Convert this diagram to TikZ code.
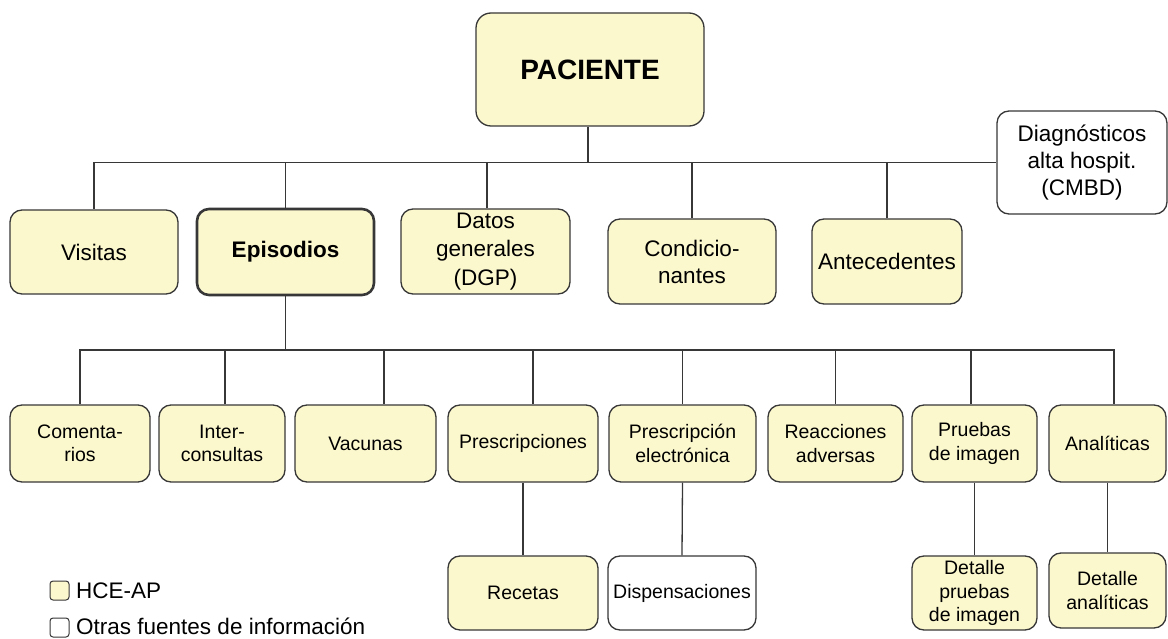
\documentclass[tikz,border=0pt]{standalone}
\usepackage{fontspec}
\setmainfont{Liberation Sans}
\definecolor{hce}{RGB}{252,248,206}
\definecolor{ln}{RGB}{55,55,55}
\begin{document}
\begin{tikzpicture}[x=1pt,y=-1pt,
  box/.style={draw=ln, line width=1.3pt, rounded corners=12pt, fill=hce, align=center, inner sep=1pt, text=black},
  big/.style={font=\fontsize{22.5}{27.5}\selectfont},
  sm/.style={font=\fontsize{19.5}{23.5}\selectfont},
  other/.style={fill=white},
  conn/.style={draw=ln, line width=1.3pt}]
\useasboundingbox (0,0) rectangle (1168,639);
% top
\node[box, minimum width=228, minimum height=113, rounded corners=15pt, font=\fontsize{28}{33}\selectfont\bfseries] (pac) at (590,69.5) {PACIENTE};
% level 1
\node[box,big,minimum width=168,minimum height=84] (vis) at (94,252) {Visitas};
\node[box,line width=2.6pt,minimum width=177,minimum height=86,font=\fontsize{22.5}{27.5}\selectfont\bfseries] (epi) at (285.5,252) {Episodios};
\node[box,minimum width=169,minimum height=85,font=\fontsize{22.5}{28.5}\selectfont] (dgp) at (485.5,251.5) {Datos\\generales\\(DGP)};
\node[box,minimum width=168,minimum height=85,font=\fontsize{22.5}{27}\selectfont] (cond) at (692,261.5) {Condicio-\\nantes};
\node[box,big,minimum width=150,minimum height=85] (ant) at (887,261.5) {Antecedentes};
\node[box,other,minimum width=170,minimum height=103,font=\fontsize{22.5}{27}\selectfont] (diag) at (1082,162.5) {Diagnósticos\\alta hospit.\\(CMBD)};
% level 2
\node[box,sm,minimum width=140,minimum height=77] (com) at (80,443.5) {Comenta-\\rios};
\node[box,sm,minimum width=126,minimum height=77] (int) at (222,443.5) {Inter-\\consultas};
\node[box,sm,minimum width=141,minimum height=77] (vac) at (365.5,443.5) {Vacunas};
\node[box,sm,minimum width=150,minimum height=77] (pre) at (523,443.5) {Prescripciones};
\node[box,sm,minimum width=147,minimum height=77] (pel) at (682.5,443.5) {Prescripción\\electrónica};
\node[box,sm,minimum width=135,minimum height=77] (rea) at (835.5,443.5) {Reacciones\\adversas};
\node[box,sm,minimum width=125,minimum height=77] (pru) at (974.5,443.5) {Pruebas\\de imagen};
\node[box,sm,minimum width=117,minimum height=77] (ana) at (1107.5,443.5) {Analíticas};
% level 3
\node[box,sm,minimum width=150,minimum height=74] (rec) at (523,593) {Recetas};
\node[box,sm,other,minimum width=148,minimum height=74] (dis) at (682,593) {Dispensaciones};
\node[box,sm,minimum width=125,minimum height=74] (dpru) at (974.5,593) {Detalle\\pruebas\\de imagen};
\node[box,sm,minimum width=117,minimum height=75] (dana) at (1107.5,590.5) {Detalle\\analíticas};
% legend
\node[draw=ln, fill=hce, rounded corners=3pt, line width=1pt, minimum size=19, inner sep=0] (lg1) at (59.5,590.5) {};
\node[big, anchor=west, inner sep=0] (lt1) at (76,590.5) {HCE-AP};
\node[draw=ln, fill=white, rounded corners=3pt, line width=1pt, minimum size=19, inner sep=0] (lg2) at (59.5,627.5) {};
\node[big, anchor=west, inner sep=0] (lt2) at (76,626.5) {Otras fuentes de información};
% connectors level 1
\coordinate (pacS) at ([xshift=-2]pac.south);
\draw[conn] (vis.north) |- (diag.west);
\draw[conn] (pacS) -- (pacS |- diag.west);
\draw[conn] (epi.north) -- (epi.north |- diag.west);
\coordinate (dgpT) at ([xshift=1.5]dgp.north);
\draw[conn] (dgpT) -- (dgpT |- diag.west);
\draw[conn] (cond.north) -- (cond.north |- diag.west);
\draw[conn] (ant.north) -- (ant.north |- diag.west);
% connectors level 2
\coordinate (b2) at (0,350);
\coordinate (anaT) at ([xshift=6.5]ana.north);
\coordinate (intT) at ([xshift=3]int.north);
\coordinate (vacT) at ([xshift=18.5]vac.north);
\coordinate (preT) at ([xshift=10]pre.north);
\coordinate (pruT) at ([xshift=-3.5]pru.north);
\draw[conn] (epi.south) -- (epi.south |- b2);
\draw[conn] (com.north) -- (com.north |- b2) -- (anaT |- b2) -- (anaT);
\draw[conn] (intT) -- (intT |- b2);
\draw[conn] (vacT) -- (vacT |- b2);
\draw[conn] (preT) -- (preT |- b2);
\draw[conn] (pel.north) -- (pel.north |- b2);
\draw[conn] (rea.north) -- (rea.north |- b2);
\draw[conn] (pruT) -- (pruT |- b2);
% connectors level 3
\draw[conn] (pre.south) -- (rec.north);
\draw[conn] (pel.south) -- (dis.north);
\draw[conn] (pru.south) -- (dpru.north);
\draw[conn] (ana.south) -- (dana.north);
\end{tikzpicture}
\end{document}
